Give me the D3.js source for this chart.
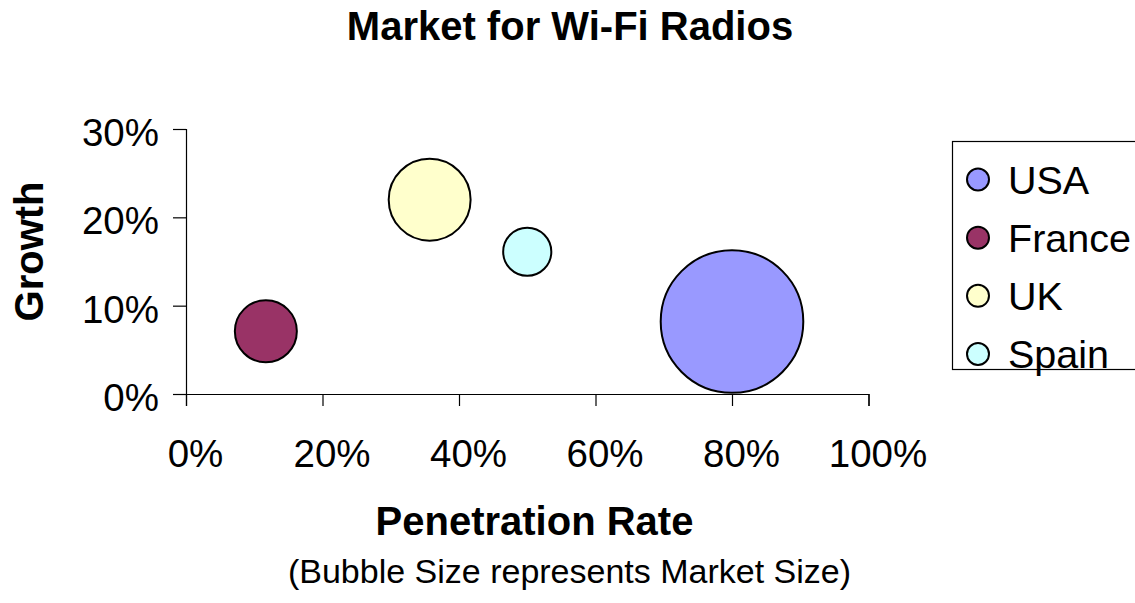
<!DOCTYPE html>
<html lang="en">
<head>
    <meta charset="UTF-8">
    <title>Market for Wi-Fi Radios</title>
    <script src="https://d3js.org/d3.v7.min.js"></script>
    <style>
        body {
            margin: 0;
            padding: 0;
            background: #fff;
        }
        svg {
            font-family: Arial, "Liberation Sans", sans-serif;
        }
    </style>
</head>
<body>
    <svg width="1135" height="603"></svg>

    <script>
        // data
        const countries = ["USA", "France", "UK", "Spain"];
        const penetration = [0.80, 0.117, 0.357, 0.50];
        const growth = [0.082, 0.071, 0.22, 0.161];
        const marketSize = [50, 9.45, 16.5, 5.7];
        const colors = ["#9999FF", "#993366", "#FFFFCC", "#CCFFFF"];
        const xTicks = [0, 0.2, 0.4, 0.6, 0.8, 1.0];
        const yTicks = [0, 0.1, 0.2, 0.3];

        const width = 1135;
        const height = 603;
        const plot = { left: 186, right: 868.5, top: 129, bottom: 394 };

        const svg = d3.select("svg")
            .attr("width", width)
            .attr("height", height);

        const x = d3.scaleLinear().domain([0, 1]).range([plot.left, plot.right]);
        const y = d3.scaleLinear().domain([0, 0.3]).range([plot.bottom, plot.top]);
        const r = d3.scaleSqrt().domain([0, d3.max(marketSize)]).range([0, 71.3]);
        const pct = d3.format(".0%");

        // title
        svg.append("text")
            .attr("x", 570)
            .attr("y", 40)
            .attr("text-anchor", "middle")
            .attr("font-size", "40px")
            .attr("font-weight", "bold")
            .text("Market for Wi-Fi Radios");

        // y axis
        const yAxis = svg.append("g")
            .attr("transform", `translate(${plot.left},0)`)
            .call(d3.axisLeft(y).tickValues(yTicks).tickSize(13).tickPadding(14).tickFormat(pct));
        yAxis.select(".domain").attr("stroke", "#000").attr("stroke-width", 1.2);
        yAxis.selectAll(".tick line").attr("stroke", "#000").attr("stroke-width", 1.2);
        yAxis.selectAll(".tick text")
            .attr("font-size", "38.5px")
            .attr("font-family", "Arial, 'Liberation Sans', sans-serif")
            .attr("fill", "#000")
            .attr("dy", "0.43em");

        // x axis
        const xAxis = svg.append("g")
            .attr("transform", `translate(0,${plot.bottom})`)
            .call(d3.axisBottom(x).tickValues(xTicks).tickSize(12).tickFormat(pct));
        xAxis.select(".domain").attr("stroke", "#000").attr("stroke-width", 1.2);
        xAxis.selectAll(".tick line").attr("stroke", "#000").attr("stroke-width", 1.2);
        xAxis.selectAll(".tick text")
            .attr("font-size", "38.5px")
            .attr("font-family", "Arial, 'Liberation Sans', sans-serif")
            .attr("fill", "#000")
            .attr("dx", 9)
            .attr("y", 73)
            .attr("dy", 0);

        // bubbles, largest first so small ones stay on top
        const bubbles = countries.map((c, i) => ({
            name: c, px: penetration[i], gy: growth[i], size: marketSize[i], color: colors[i]
        })).sort((a, b) => b.size - a.size);

        svg.append("g")
            .selectAll("circle")
            .data(bubbles)
            .join("circle")
            .attr("cx", d => x(d.px))
            .attr("cy", d => y(d.gy))
            .attr("r", d => r(d.size))
            .attr("fill", d => d.color)
            .attr("stroke", "#000")
            .attr("stroke-width", 2);

        // axis titles
        svg.append("text")
            .attr("x", 534.5)
            .attr("y", 535)
            .attr("text-anchor", "middle")
            .attr("font-size", "40px")
            .attr("font-weight", "bold")
            .text("Penetration Rate");

        svg.append("text")
            .attr("transform", "translate(43,251.5) rotate(-90)")
            .attr("text-anchor", "middle")
            .attr("font-size", "40px")
            .attr("font-weight", "bold")
            .text("Growth");

        svg.append("text")
            .attr("x", 569.5)
            .attr("y", 583)
            .attr("text-anchor", "middle")
            .attr("font-size", "34px")
            .text("(Bubble Size represents Market Size)");

        // legend
        const legend = svg.append("g");
        legend.append("rect")
            .attr("x", 952.5)
            .attr("y", 141.5)
            .attr("width", 200)
            .attr("height", 228)
            .attr("fill", "#fff")
            .attr("stroke", "#000")
            .attr("stroke-width", 1.2);

        const legendY = d3.scalePoint().domain(countries).range([179.5, 354]);
        const items = legend.selectAll(".item")
            .data(countries)
            .join("g")
            .attr("class", "item")
            .attr("transform", d => `translate(978,${legendY(d)})`);

        items.append("circle")
            .attr("r", 11)
            .attr("fill", (d, i) => colors[i])
            .attr("stroke", "#000")
            .attr("stroke-width", 2);

        items.append("text")
            .attr("x", 30)
            .attr("y", 14)
            .attr("font-size", "39.5px")
            .text(d => d);
    </script>
</body>
</html>
